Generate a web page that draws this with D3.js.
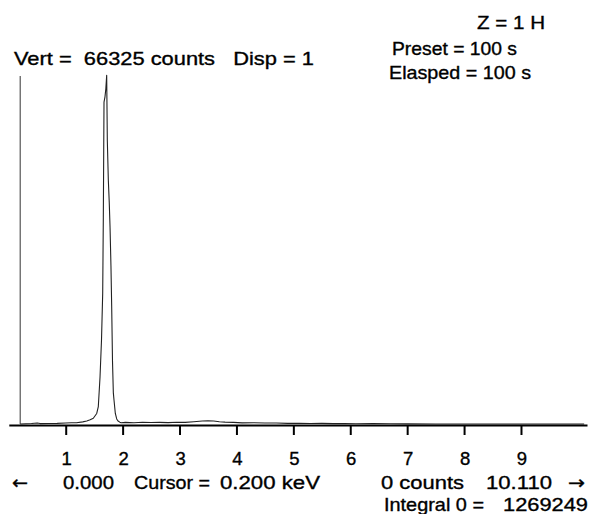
<!DOCTYPE html>
<html>
<head>
<meta charset="utf-8">
<script src="https://cdn.jsdelivr.net/npm/d3@7"></script>
<style>
  html, body { margin: 0; padding: 0; background: #fff; }
  svg { display: block; }
  text { font-family: "Liberation Sans", Arial, Helvetica, sans-serif; fill: #000; stroke: #000; stroke-width: 0.35px; white-space: pre; }
  text.arrow { font-family: "DejaVu Sans", sans-serif; }
</style>
</head>
<body>
<svg id="chart" width="590" height="514"></svg>
<script>
// X-ray spectrum trace: channel energy (keV) and counts
const energyKeV = [
  0.20, 0.30, 0.40, 0.50, 0.55, 0.70, 0.85, 1.00, 1.10, 1.19, 1.30, 1.37, 1.43, 1.485,
  1.545, 1.573, 1.603, 1.629, 1.650, 1.661, 1.668, 1.673, 1.690, 1.705, 1.720,
  1.731, 1.749, 1.765, 1.779, 1.795, 1.808, 1.822, 1.837, 1.849, 1.872, 1.896,
  1.919, 1.950, 1.972, 2.05, 2.20, 2.35, 2.50, 2.65, 2.80, 2.95, 3.10, 3.25,
  3.40, 3.50, 3.60, 3.70, 3.80, 3.95, 4.10, 4.30, 4.50, 4.70, 4.90, 5.10, 5.30,
  5.50, 5.70, 5.90, 6.10, 6.40, 6.70, 7.00, 7.50, 8.00, 9.00, 10.11
];
const counts = [
  0, 60, 90, 200, 80, 100, 120, 200, 230, 250, 400, 570, 800, 1080,
  2000, 3300, 8900, 15900, 24800, 39200, 52000, 61000, 62000, 63500, 66100,
  53800, 46200, 42000, 37300, 30000, 22200, 12000, 5900, 4500, 2000, 950,
  570, 350, 250, 300, 250, 320, 280, 300, 260, 330, 300, 420,
  560, 620, 560, 420, 350, 300, 220, 250, 200, 180, 120, 150, 100,
  120, 80, 100, 60, 70, 40, 20, 0, 0, 0, 0
];

const tickValues = [1, 2, 3, 4, 5, 6, 7, 8, 9];
const fullScaleCounts = 66325;
const cursorKeV = 0.2;
const axisEndKeV = 10.16;

// Instrument readouts
const zLabel = "Z = 1 H";
const vertLabel = "Vert =  66325 counts   Disp = 1";
const presetLabel = "Preset = 100 s";
const elapsedLabel = "Elasped = 100 s";
const leftArrow = "\u2190";
const rightArrow = "\u2192";
const startLabel = "0.000";
const cursorLabel = "Cursor =";
const cursorValue = "0.200 keV";
const cursorCounts = "0 counts";
const endLabel = "10.110";
const integralLabel = "Integral 0 =";
const integralValue = "1269249";

const svg = d3.select("#chart");

const x = d3.scaleLinear().domain([0, axisEndKeV]).range([8.8, 587]);
const y = d3.scaleLinear().domain([0, fullScaleCounts]).range([424, 74]);

// Cursor marker
svg.append("line")
  .attr("x1", x(cursorKeV)).attr("x2", x(cursorKeV))
  .attr("y1", y(0)).attr("y2", y(fullScaleCounts) + 2)
  .attr("stroke", "#333").attr("stroke-width", 1);

// Spectrum trace
const pts = energyKeV.map((e, i) => [e, counts[i]]);
svg.append("path")
  .datum(pts)
  .attr("fill", "none")
  .attr("stroke", "#222")
  .attr("stroke-width", 1.1)
  .attr("stroke-linejoin", "round")
  .attr("d", d3.line().x(d => x(d[0])).y(d => y(d[1])));

// Energy axis
const axisG = svg.append("g")
  .attr("transform", `translate(0,${y(0) + 1})`)
  .call(d3.axisBottom(x).tickValues(tickValues).tickSize(10).tickSizeOuter(0).tickFormat(""));
axisG.select(".domain").attr("stroke", "#000").attr("stroke-width", 2);
axisG.selectAll(".tick line").attr("stroke", "#000").attr("stroke-width", 2);

// Tick labels
svg.append("g").selectAll("text")
  .data(tickValues)
  .join("text")
  .attr("x", d => x(d) + 1)
  .attr("y", 465)
  .attr("text-anchor", "middle")
  .attr("font-size", 18.5)
  .text(d => d);

// Readout text, stretched to the instrument's wide lettering
function label(str, x0, width, baseline, cls) {
  svg.append("text")
    .attr("class", cls || null)
    .attr("x", x0).attr("y", baseline)
    .attr("font-size", 18.5)
    .attr("textLength", width)
    .attr("lengthAdjust", "spacingAndGlyphs")
    .text(str);
}

label(zLabel, 477, 68, 29);
label(vertLabel, 14, 300, 65);
label(presetLabel, 392, 125, 55);
label(elapsedLabel, 389, 142, 79);

label(leftArrow, 12, 16, 489, "arrow");
label(startLabel, 63, 51, 489);
label(cursorLabel, 134, 76, 489);
label(cursorValue, 220, 100, 489);
label(cursorCounts, 381, 83, 489);
label(endLabel, 486, 66, 489);
label(rightArrow, 568, 17, 489, "arrow");
label(integralLabel, 384, 100, 511);
label(integralValue, 503, 85, 511);
</script>
</body>
</html>
